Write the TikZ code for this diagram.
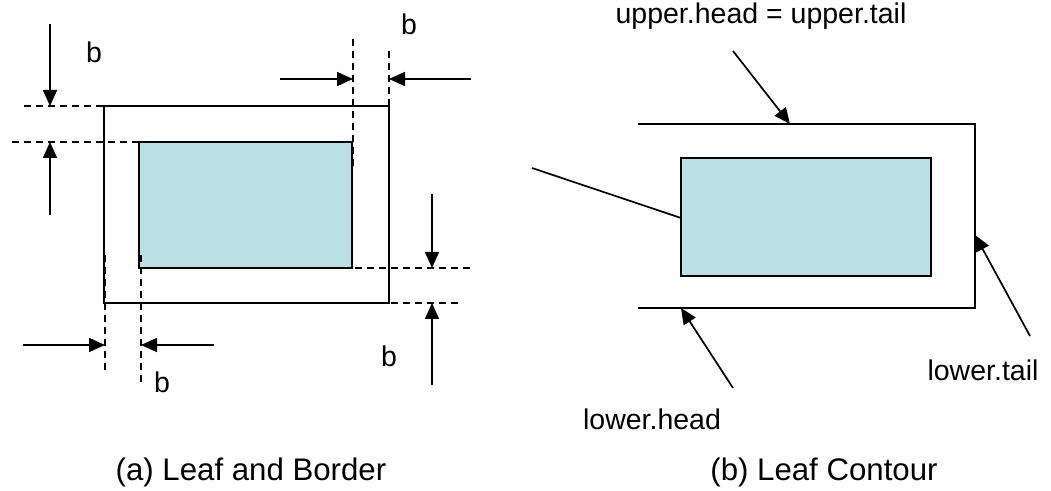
\documentclass[tikz,border=0pt]{standalone}
\usepackage{fontspec}
\setmainfont{Liberation Sans}
\usetikzlibrary{
  arrows.meta,
  positioning,
  calc
}
\definecolor{lfLeaf}{HTML}{BBE0E3}
\tikzset{
  leaf/.style={draw, fill=lfLeaf, line width=0.85pt, inner sep=0pt, outer sep=0pt},
  border/.style={draw, line width=0.85pt, inner sep=0pt, outer sep=0pt},
  contour/.style={line width=0.85pt},
  guide/.style={line width=0.75pt, dash pattern=on 3.5pt off 2.5pt},
  dimarrow/.style={-{Triangle[length=8pt, width=7pt]}, line width=0.85pt},
  pointer/.style={line width=0.85pt},
  lbl/.style={font=\fontsize{14.25}{17}\selectfont, anchor=base, inner sep=0pt},
  caption/.style={font=\fontsize{15.6}{19}\selectfont, anchor=base, inner sep=0pt}
}
\begin{document}
\begin{tikzpicture}[x=0.5pt, y=-0.5pt]
  \useasboundingbox (0,0) rectangle (1051,491);
  \node[border, minimum width=142.5pt, minimum height=98.5pt] (borderA) at (246.5,204.5) {};
  \node[leaf, minimum width=106.5pt, minimum height=63pt] (leafA) at (245.5,205) {};

  \draw[guide] (leafA.west |- borderA.north) -- (20,106);
  \draw[guide] (leafA.north west) -- (10,142);
  \draw[guide] (353,39) -- (353,168);
  \draw[guide] (borderA.north east) -- (389,49);
  \draw[guide] (343,268) -- (473,268);
  \draw[guide] (343,303) -- (463,303);
  \draw[guide] (105,255) -- (105,373);
  \draw[guide] (141,255) -- (141,385);

  \coordinate (tDown) at (50,24);
  \coordinate (tUp) at (50,215);
  \coordinate (tRight) at (280,79);
  \coordinate (tLeft) at (471,79);
  \coordinate (tDownR) at (432,194);
  \coordinate (tUpR) at (432,385);
  \coordinate (tRightB) at (23,345);
  \coordinate (tLeftB) at (214,345);
  \draw[dimarrow] (tDown) -- (tDown |- borderA.north);
  \draw[dimarrow] (tUp) -- (tUp |- leafA.north);
  \draw[dimarrow] (tRight) -- (353,79);
  \draw[dimarrow] (tLeft) -- (tLeft -| borderA.east);
  \draw[dimarrow] (tDownR) -- (tDownR |- leafA.south);
  \draw[dimarrow] (tUpR) -- (tUpR |- borderA.south);
  \draw[dimarrow] (tRightB) -- (105,345);
  \draw[dimarrow] (tLeftB) -- (141,345);

  \node[lbl] (bTopL) at (94,63) {b};
  \node[lbl] (bTopR) at (409,35) {b};
  \node[lbl] (bBotR) at (389,367) {b};
  \node[lbl] (bBotL) at (162,393) {b};
  \node[caption] (capA) at (251,481) {(a) Leaf and Border};

  \coordinate (cUL) at (638,124);
  \coordinate (cUR) at (975,124);
  \coordinate (cLR) at (975,308);
  \coordinate (cLL) at (638,308);
  \draw[contour] (cUL) -- (cUR) -- (cLR) -- (cLL);
  \node[leaf, minimum width=125pt, minimum height=59pt] (leafB) at (806,217) {};
  \coordinate (leafTail) at (532,168);
  \draw[pointer] (leafTail) -- ([yshift=-0.5pt]leafB.west);

  \coordinate (upHit) at (790,124);
  \coordinate (tailHit) at (975,235);
  \coordinate (headHit) at (681,308);
  \coordinate (upFrom) at (733,51);
  \coordinate (tailFrom) at (1030,336);
  \coordinate (headFrom) at (733,388);
  \draw[dimarrow] (upFrom) -- (upHit);
  \draw[dimarrow] (tailFrom) -- (tailHit);
  \draw[dimarrow] (headFrom) -- (headHit);

  \node[lbl] (upperLbl) at (761,24) {upper.head = upper.tail};
  \node[lbl] (tailLbl) at (983,381) {lower.tail};
  \node[lbl] (headLbl) at (652,430) {lower.head};
  \node[caption] (capB) at (824,481) {(b) Leaf Contour};
\end{tikzpicture}
\end{document}
